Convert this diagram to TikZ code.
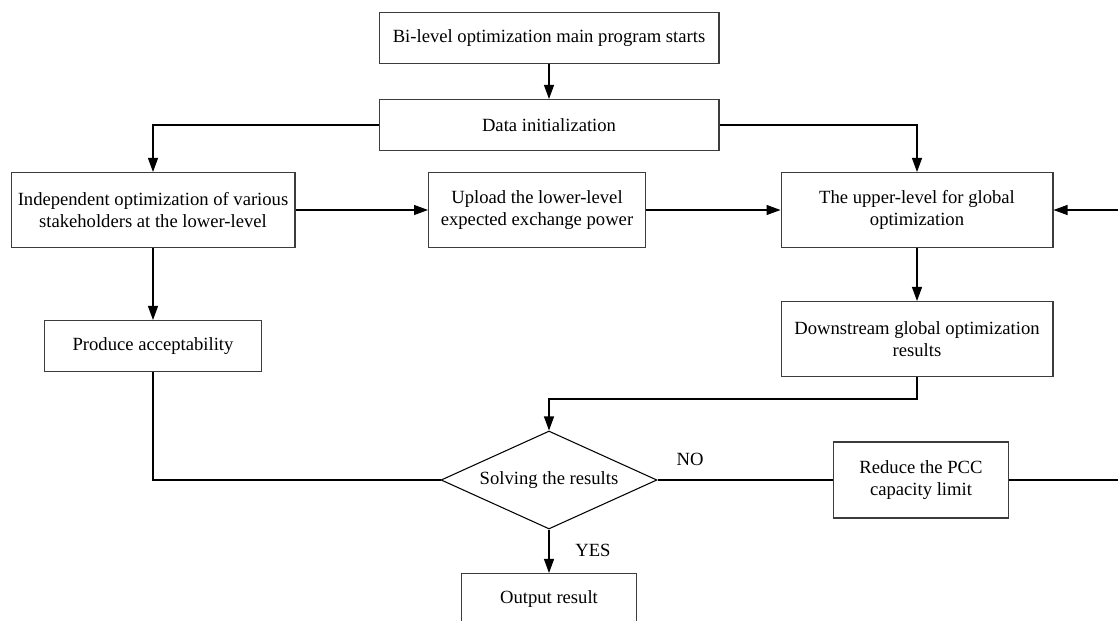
\documentclass[tikz,border=0pt]{standalone}
\usepackage{fontspec}
\setmainfont{Liberation Serif}
\usepackage{tikz}
\usetikzlibrary{shapes.geometric, arrows.meta, positioning, calc}
\definecolor{edgegray}{RGB}{60,60,60}

\begin{document}
\begin{tikzpicture}[x=0.02cm, y=-0.02cm,
        block/.style={draw=edgegray, line width=0.6pt, align=center, inner sep=2pt,
                      font=\fontsize{10.6}{12.5}\selectfont},
        decision/.style={draw=black, line width=0.6pt, diamond, aspect=2.2, inner sep=0pt,
                         minimum width=4.32cm, minimum height=1.96cm,
                         font=\fontsize{10.6}{12.5}\selectfont},
        arrow/.style={draw=black, line width=0.6pt, -{Triangle[length=2.8mm, width=2mm]}},
        link/.style={draw=black, line width=0.6pt},
        tag/.style={font=\fontsize{10.6}{12.5}\selectfont}]
        \useasboundingbox (0,0) rectangle (1118,621);

        % main column
        \node[block, minimum width=6.8cm, minimum height=1.02cm] (start) at (549,38)
            {Bi-level optimization main program starts};
        \node[block, minimum width=6.8cm, minimum height=1.02cm] (init) at (549,125)
            {Data initialization};

        % lower level and upper level
        \node[block, minimum width=5.68cm, minimum height=1.5cm] (lower) at (153,210)
            {Independent optimization of various\\stakeholders at the lower-level};
        \node[block, minimum width=4.34cm, minimum height=1.5cm] (upload) at (537,210)
            {Upload the lower-level\\expected exchange power};
        \node[block, minimum width=5.44cm, minimum height=1.5cm] (upper) at (917,210)
            {The upper-level for global\\optimization};
        \node[block, minimum width=5.44cm, minimum height=1.5cm] (down) at (917,339)
            {Downstream global optimization\\results};
        \node[block, minimum width=4.34cm, minimum height=1.02cm] (accept) at (153,346)
            {Produce acceptability};

        % decision and results
        \node[decision] (solve) at (549,480) {Solving the results};
        \node[block, minimum width=3.5cm, minimum height=1.52cm] (reduce) at (921,480)
            {Reduce the PCC\\capacity limit};
        \node[block, minimum width=3.5cm, minimum height=1.02cm] (output) at (549,599)
            {Output result};

        \coordinate (loopin) at (1118,210);
        \coordinate (loopout) at (1118,480);

        % connectors
        \draw[arrow] (start) -- (init);
        \draw[arrow] (init.west) -| (lower.north);
        \draw[arrow] (init.east) -| (upper.north);
        \draw[arrow] (lower) -- (upload);
        \draw[arrow] (upload) -- (upper);
        \draw[arrow] (upper) -- (down);
        \draw[arrow] (down.south) -- ++(0,22) -| (solve.north);
        \draw[arrow] (lower) -- (accept);
        \draw[link] (accept.south) |- (solve.west);
        \draw[link] (solve.east) -- (reduce.west);
        \draw[link] (reduce.east) -- (loopout);
        \draw[arrow] (loopin) -- (upper.east);
        \draw[arrow] (solve.south) -- (output.north);

        \node[tag] (no) at (690,459) {NO};
        \node[tag] (yes) at (593,550) {YES};
    \end{tikzpicture}
\end{document}
